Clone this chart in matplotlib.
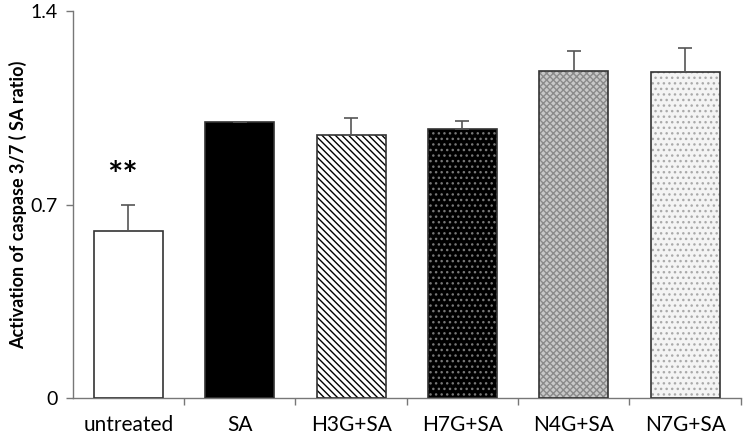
import matplotlib.pyplot as plt

# Data
groups = ['untreated', 'SA', 'H3G+SA', 'H7G+SA', 'N4G+SA', 'N7G+SA']
means = [0.604, 1.00, 0.951, 0.973, 1.183, 1.179]
errors = [0.095, 0.0, 0.062, 0.030, 0.072, 0.087]

# fill styles per bar: (facecolor, hatch, hatch colour)
faces = ['white', 'black', 'white', 'black', '#c8c8c8', '#f4f4f4']
hatches = [None, None, '\\\\\\\\\\', '...', 'xxxxx', '...']
hatch_colors = ['black', 'black', 'black', '#777777', '#8a8a8a', '#aaaaaa']

plt.rcParams['font.family'] = ['Lato', 'DejaVu Sans']

fig = plt.figure(figsize=(7.43, 4.43), dpi=100)
ax = fig.add_axes([0.098, 0.1016, 0.899, 0.8734])

x = list(range(len(groups)))
width = 0.62

# fill + hatch layer
for i in x:
    ax.bar(i, means[i], width, color=faces[i], hatch=hatches[i],
           edgecolor=hatch_colors[i], linewidth=0, zorder=2)
# outline layer
ax.bar(x, means, width, fill=False, edgecolor='#333333', linewidth=1.2, zorder=3)

# upper error bars only
ax.errorbar(x, means, yerr=[[0] * len(x), errors], fmt='none',
            ecolor='#555555', elinewidth=1.2, capsize=5, capthick=1.2, zorder=4)

ax.text(-0.05, 0.80, '**', ha='center', va='center', fontsize=26, fontweight='bold')

ax.set_xlim(-0.5, 5.5)
ax.set_ylim(0, 1.4)
ax.set_yticks([0, 0.7, 1.4])
ax.set_yticklabels(['0', '0.7', '1.4'])
ax.set_xticks(x)
ax.set_xticklabels(groups)
ax.set_xticks([i + 0.5 for i in x], minor=True)
ax.tick_params(axis='x', which='major', length=0, labelsize=15, pad=12)
ax.tick_params(axis='x', which='minor', length=5, color='#777777', width=1)
ax.tick_params(axis='y', length=5, color='#777777', width=1, labelsize=14, pad=6)

for side in ['top', 'right']:
    ax.spines[side].set_visible(False)
for side in ['left', 'bottom']:
    ax.spines[side].set_color('#777777')
    ax.spines[side].set_linewidth(1)

ax.set_ylabel('Activation of caspase 3/7 ( SA ratio)', fontsize=13, fontweight='bold',
              labelpad=2)

fig.savefig('out.png', dpi=100)
